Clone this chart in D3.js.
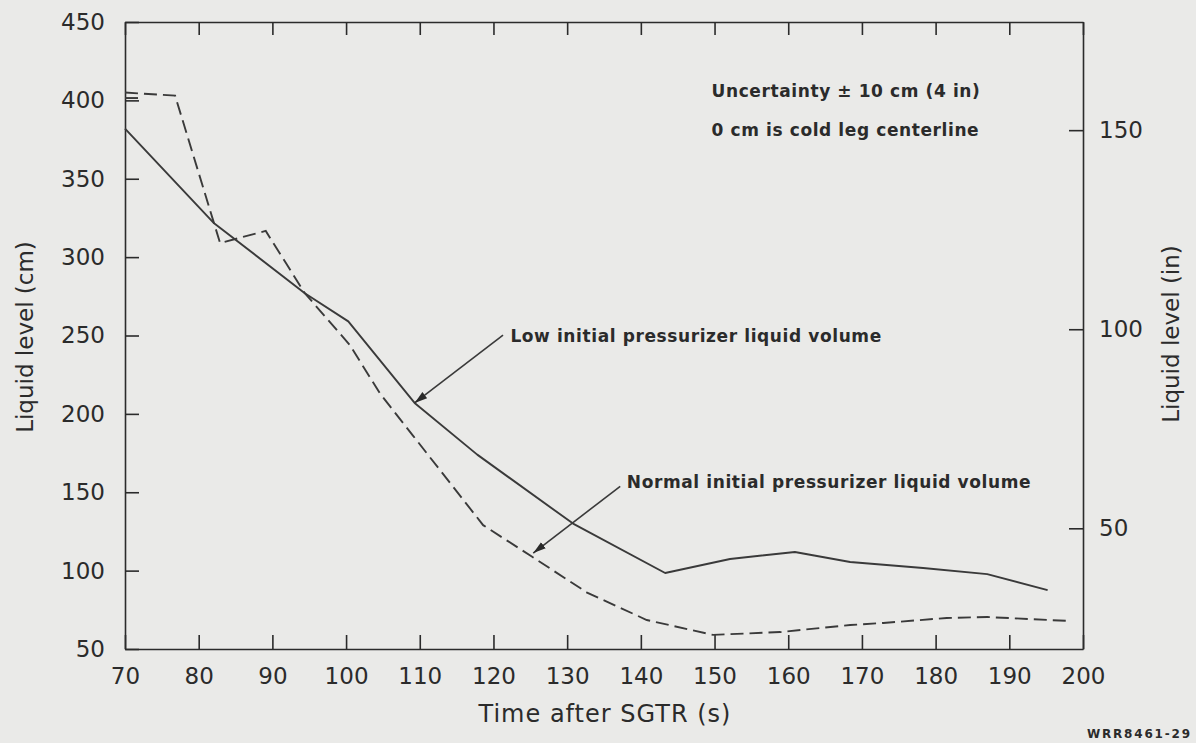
<!DOCTYPE html>
<html>
<head>
<meta charset="utf-8">
<script src="https://cdn.jsdelivr.net/npm/d3@7"></script>
<style>
  body { margin: 0; background: #eaeae8; }
  svg { display: block; }
</style>
</head>
<body>
<svg id="chart" width="1196" height="743"></svg>
<script>
// data (time in s, level in cm)
const lowTime = [70, 82, 94.4, 100.3, 109.3, 117.8, 130.8, 143.3, 152.1, 160.9, 168.4, 178.3, 187, 195.2];
const lowLevel = [382, 322, 277, 259, 207, 174, 130, 98.5, 107.4, 111.9, 105.5, 101.7, 97.8, 87.6];

const normalTime = [70, 76.8, 82.9, 89.1, 94.4, 100.5, 104.6, 109.1, 118.6, 125.2, 132.7, 140.8, 149.8, 158.9, 168.4, 172.9, 181.5, 187, 198];
const normalLevel = [405, 403, 309, 316.7, 277, 244, 213, 186, 129, 109, 86, 68.5, 59, 60.8, 65.3, 66.6, 69.8, 70.4, 67.9];

// short extra dash at the start of the dashed curve
const normalStartTime = [70, 72.5];
const normalStartLevel = [401.5, 401.5];

const xTicks = [70, 80, 90, 100, 110, 120, 130, 140, 150, 160, 170, 180, 190, 200];
const yTicksCm = [50, 100, 150, 200, 250, 300, 350, 400, 450];
const yTicksIn = [50, 100, 150];

const cmPerIn = 2.54;

const svg = d3.select('#chart');
const plotLeft = 125, plotRight = 1083, plotTop = 22, plotBottom = 649;
const ink = '#2b2b2b';
const font = 'DejaVu Sans, sans-serif';

const x = d3.scaleLinear().domain([70, 200]).range([plotLeft, plotRight]);
const y = d3.scaleLinear().domain([50, 450]).range([plotBottom, plotTop]);
const yIn = d3.scaleLinear().domain([50 / cmPerIn, 450 / cmPerIn]).range([plotBottom, plotTop]);

const customAxis = (g) => {
    g.selectAll('path.domain').attr('stroke', ink).attr('stroke-width', 1.6);
    g.selectAll('.tick line').attr('stroke', ink).attr('stroke-width', 1.6);
    g.selectAll('.tick text').attr('fill', ink).style('font-family', font).style('font-size', '23px');
};

svg.append('g')
    .attr('transform', 'translate(0,' + plotBottom + ')')
    .call(d3.axisBottom(x).tickValues(xTicks).tickSizeInner(-14).tickSizeOuter(0).tickPadding(19))
    .call(customAxis);

svg.append('g')
    .attr('transform', 'translate(0,' + plotTop + ')')
    .call(d3.axisTop(x).tickValues(xTicks).tickSizeInner(-13).tickSizeOuter(0).tickFormat(''))
    .call(customAxis);

svg.append('g')
    .attr('transform', 'translate(' + plotLeft + ',0)')
    .call(d3.axisLeft(y).tickValues(yTicksCm).tickSizeInner(-14).tickSizeOuter(0).tickPadding(20))
    .call(customAxis);

svg.append('g')
    .attr('transform', 'translate(' + plotRight + ',0)')
    .call(d3.axisRight(yIn).tickValues(yTicksIn).tickSizeInner(-14).tickSizeOuter(0).tickPadding(16))
    .call(customAxis);

// curves
const line = d3.line().x(d => x(d[0])).y(d => y(d[1]));
const zip = (a, b) => a.map((v, i) => [v, b[i]]);

svg.append('path')
    .attr('d', line(zip(lowTime, lowLevel)))
    .attr('fill', 'none')
    .attr('stroke', '#3a3a3a')
    .attr('stroke-width', 1.9)
    .attr('stroke-linejoin', 'round');

[zip(normalTime, normalLevel), zip(normalStartTime, normalStartLevel)].forEach(pts => {
    svg.append('path')
        .attr('d', line(pts))
        .attr('fill', 'none')
        .attr('stroke', '#3a3a3a')
        .attr('stroke-width', 1.9)
        .attr('stroke-dasharray', '13,6');
});

// annotations (in data units)
const notes = [
    { t: 149.6, v: 402.2, text: 'Uncertainty \u00b1 10 cm (4 in)' },
    { t: 149.6, v: 377.3, text: '0 cm is cold leg centerline' },
    { t: 122.3, v: 246, text: 'Low initial pressurizer liquid volume' },
    { t: 138.1, v: 152.5, text: 'Normal initial pressurizer liquid volume' }
];
svg.selectAll('text.note').data(notes).enter()
    .append('text')
    .attr('class', 'note')
    .attr('x', d => x(d.t))
    .attr('y', d => y(d.v))
    .attr('fill', ink)
    .style('font-family', font)
    .style('font-size', '17px')
    .style('font-weight', 'bold')
    .style('letter-spacing', '0.6px')
    .text(d => d.text);

const arrows = [
    { from: [121.3, 250.3], to: [109.3, 207] },
    { from: [137.2, 153.8], to: [125.4, 111.2] }
];
svg.append('defs').append('marker')
    .attr('id', 'head')
    .attr('viewBox', '0 0 10 10')
    .attr('refX', 10).attr('refY', 5)
    .attr('markerWidth', 8).attr('markerHeight', 8)
    .attr('markerUnits', 'strokeWidth')
    .attr('orient', 'auto')
    .append('path')
    .attr('d', 'M0,2L10,5L0,8Z')
    .attr('fill', '#2a2a2a');

svg.selectAll('line.arrow').data(arrows).enter()
    .append('line')
    .attr('class', 'arrow')
    .attr('x1', d => x(d.from[0])).attr('y1', d => y(d.from[1]))
    .attr('x2', d => x(d.to[0])).attr('y2', d => y(d.to[1]))
    .attr('stroke', '#3a3a3a')
    .attr('stroke-width', 1.6)
    .attr('marker-end', 'url(#head)');

// axis titles
svg.append('text')
    .attr('transform', 'translate(33,337) rotate(-90)')
    .attr('text-anchor', 'middle')
    .attr('fill', ink)
    .style('font-family', font)
    .style('font-size', '23px')
    .text('Liquid level (cm)');

svg.append('text')
    .attr('transform', 'translate(1179,334) rotate(-90)')
    .attr('text-anchor', 'middle')
    .attr('fill', ink)
    .style('font-family', font)
    .style('font-size', '23px')
    .text('Liquid level (in)');

svg.append('text')
    .attr('x', 605).attr('y', 722)
    .attr('text-anchor', 'middle')
    .attr('fill', ink)
    .style('font-family', font)
    .style('font-size', '24px')
    .style('letter-spacing', '1px')
    .text('Time after SGTR (s)');

svg.append('text')
    .attr('x', 1087).attr('y', 738)
    .attr('fill', ink)
    .style('font-family', font)
    .style('font-size', '12px')
    .style('font-weight', 'bold')
    .style('letter-spacing', '1.8px')
    .text('WRR8461-29');
</script>
</body>
</html>
